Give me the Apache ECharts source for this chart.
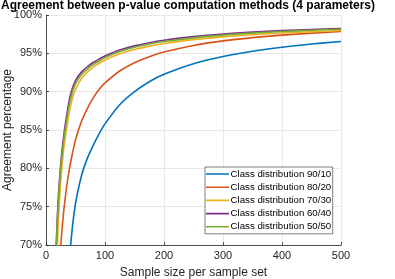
<!DOCTYPE html>
<html>
<head>
<meta charset="utf-8">
<script src="https://cdn.jsdelivr.net/npm/echarts@6/dist/echarts.min.js"></script>
<style>
html,body{margin:0;padding:0;background:#fff;}
#chart{width:395px;height:279px;}
</style>
</head>
<body>
<div id="chart"></div>
<script>
const titleText = 'Agreement between p-value computation methods (4 parameters)';
const xAxisName = 'Sample size per sample set';
const yAxisName = 'Agreement percentage';
const seriesNames = ['Class distribution 90/10','Class distribution 80/20','Class distribution 70/30','Class distribution 60/40','Class distribution 50/50'];
const sampleSizes = [10, 15, 20, 25, 30, 35, 40, 45, 50, 60, 70, 80, 90, 100, 125, 150, 175, 200, 250, 300, 350, 400, 450, 500];
const dist90_10 = [10, 24, 41, 52, 59, 64.5, 68.5, 72.5, 75.4, 79.0, 81.3, 83.0, 84.5, 85.8, 88.3, 90.0, 91.3, 92.26, 93.64, 94.58, 95.27, 95.8, 96.21, 96.55];
const dist80_20 = [30, 52.8, 63.4, 69.9, 74.4, 77.6, 80.1, 82.0, 83.7, 86.1, 87.8, 89.2, 90.27, 91.14, 92.7, 93.78, 94.57, 95.17, 96.03, 96.62, 97.05, 97.38, 97.63, 97.85];
const dist70_30 = [35, 58, 71.5, 78.3, 82.5, 85.2, 87.5, 89.2, 90.3, 91.7, 92.55, 93.2, 93.7, 94.13, 94.93, 95.5, 95.94, 96.28, 96.79, 97.15, 97.43, 97.65, 97.82, 97.97];
const dist60_40 = [42, 64, 75, 80.6, 84.2, 86.9, 89.1, 90.5, 91.45, 92.55, 93.25, 93.8, 94.25, 94.65, 95.42, 95.97, 96.38, 96.7, 97.18, 97.52, 97.77, 97.96, 98.11, 98.23];
const dist50_50 = [40, 63, 74.3, 80, 83.6, 86.3, 88.5, 90.0, 91.0, 92.2, 92.95, 93.55, 94.0, 94.45, 95.23, 95.79, 96.21, 96.54, 97.02, 97.37, 97.63, 97.84, 98.01, 98.14];
const colors = ['#0072BD', '#D95319', '#EDB120', '#7E2F8E', '#77AC30'];
const allValues = [dist90_10, dist80_20, dist70_30, dist60_40, dist50_50];

const font = 'Liberation Sans, Arial, Helvetica, sans-serif';
const lineIcon = 'path://M0,0 L0.01,0 L0.01,0.01 Z M0,4.2 L23,4.2 L23,5.8 L0,5.8 Z M22.99,9.99 L23,9.99 L23,10 Z';
const chart = echarts.init(document.getElementById('chart'), null, {renderer: 'canvas'});
const series = allValues.map((vals, i) => ({
  name: seriesNames[i],
  type: 'line',
  data: sampleSizes.map((x, j) => [x, vals[j]]),
  symbol: 'none',
  smooth: 0.3,
  clip: true,
  lineStyle: {width: 1.6, color: colors[i]},
  itemStyle: {color: colors[i]},
  z: 2 + i
}));
chart.setOption({
  animation: false,
  backgroundColor: '#ffffff',
  title: {
    text: titleText,
    left: 188,
    textAlign: 'center',
    top: 0,
    padding: 0,
    textStyle: {fontFamily: font, fontSize: 12, fontWeight: 'bold', color: '#000'}
  },
  grid: {left: 46, right: 54, top: 15, bottom: 34, containLabel: false, outerBoundsMode: 'none'},
  legend: {
    orient: 'vertical',
    left: 205,
    top: 167,
    padding: [2, 1.5, 2, 1],
    itemWidth: 23,
    itemHeight: 10,
    itemGap: 3.2,
    backgroundColor: '#ffffff',
    borderColor: '#262626',
    borderWidth: 0.6,
    borderRadius: 0,
    textStyle: {fontFamily: font, fontSize: 9.7, color: '#000', padding: [0, 0, 0, -3.5]},
    data: seriesNames.map(n => ({name: n, icon: lineIcon}))
  },
  xAxis: {
    type: 'value',
    min: 0, max: 500, interval: 100,
    name: xAxisName,
    nameLocation: 'middle',
    nameGap: 22,
    nameMoveOverlap: false,
    nameTextStyle: {fontFamily: font, fontSize: 12, color: '#262626'},
    axisLine: {show: true, onZero: false, lineStyle: {color: '#262626', width: 0.8}},
    axisTick: {show: true, inside: true, length: 3, lineStyle: {color: '#262626', width: 0.8}},
    axisLabel: {fontFamily: font, fontSize: 11, color: '#262626', margin: 5},
    splitLine: {show: true, lineStyle: {color: '#e8e8e8', width: 1}}
  },
  yAxis: {
    type: 'value',
    min: 70, max: 100, interval: 5,
    name: yAxisName,
    nameLocation: 'middle',
    nameGap: 32,
    nameMoveOverlap: false,
    nameTextStyle: {fontFamily: font, fontSize: 12, color: '#262626'},
    axisLine: {show: true, lineStyle: {color: '#262626', width: 0.8}},
    axisTick: {show: true, inside: true, length: 3, lineStyle: {color: '#262626', width: 0.8}},
    axisLabel: {fontFamily: font, fontSize: 11, color: '#262626', margin: 4, formatter: '{value}%'},
    splitLine: {show: true, lineStyle: {color: '#e8e8e8', width: 1}}
  },
  series: series
});
</script>
</body>
</html>
